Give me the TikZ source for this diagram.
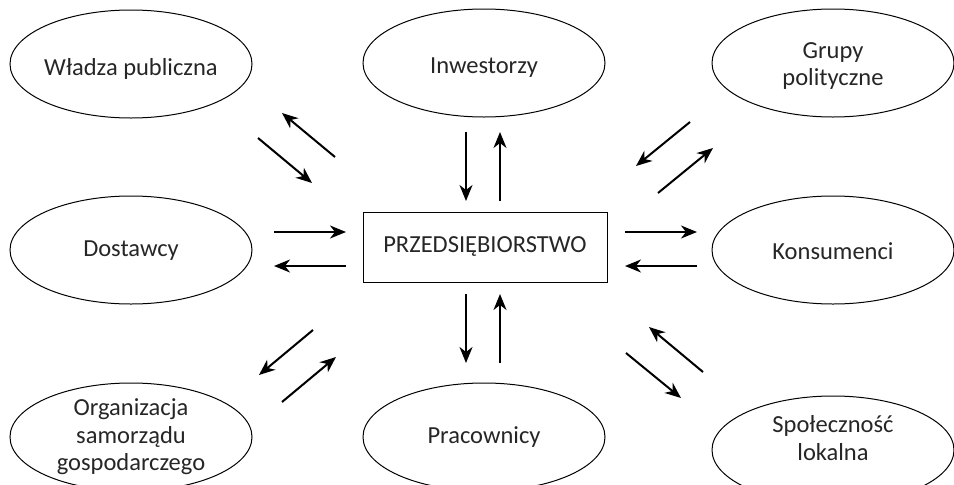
\documentclass[tikz,border=0pt]{standalone}
\usepackage{fontspec}
\setmainfont{Carlito}
\usetikzlibrary{arrows.meta,shapes.geometric}

\tikzset{
  actor/.style={draw, line width=1pt, ellipse, minimum width=242pt, minimum height=108pt,
    inner sep=0pt},
  caption/.style={align=center, text=black!85, inner sep=0pt,
    font=\fontsize{24.5}{27.5}\selectfont},
  firm/.style={draw, line width=1pt, rectangle, minimum width=244pt, minimum height=70pt,
    inner sep=0pt, text=black!85, font=\fontsize{24.5}{27.5}\selectfont},
  flow/.style={line width=2pt, -{Stealth[length=16pt, width=13pt, inset=5pt]}}
}

\begin{document}
\begin{tikzpicture}[x=1pt, y=-1pt]
  \useasboundingbox (0,0) rectangle (954,485);

  % central company
  \node[firm] (core) at (485,247) {PRZEDSIĘBIORSTWO};

  % stakeholder ellipses
  \node[actor] (gov)   at (131,64)  {};
  \node[actor] (inv)   at (484,63)  {};
  \node[actor] (pol)   at (833,63)  {};
  \node[actor] (sup)   at (131,250) {};
  \node[actor] (cons)  at (833,250) {};
  \node[actor] (org)   at (131,437) {};
  \node[actor] (emp)   at (484,437) {};
  \node[actor] (local) at (833,450) {};

  % stakeholder names
  \node[caption] (govt)   at ([yshift=-5]gov.center)   {Władza publiczna};
  \node[caption] (invt)   at ([yshift=-5]inv.center)   {Inwestorzy};
  \node[caption] (polt)   at ([yshift=-3]pol.center)   {Grupy\\polityczne};
  \node[caption] (supt)   at ([yshift=-1]sup.center)   {Dostawcy};
  \node[caption] (const)  at ([yshift=-1]cons.center)  {Konsumenci};
  \node[caption] (orgt)   at ([yshift=0]org.center)    {Organizacja\\samorządu\\gospodarczego};
  \node[caption] (empt)   at ([yshift=0]emp.center)    {Pracownicy};
  \node[caption] (localt) at ([yshift=12]local.center) {Społeczność\\lokalna};

  % exchange arrows, upper left
  \draw[flow] (335,157) -- (282,113);
  \draw[flow] (258,138) -- (312,183);
  % upper middle
  \draw[flow] (466,132) -- (466,201);
  \draw[flow] (500,201) -- (500,132);
  % upper right
  \draw[flow] (690,122) -- (636,166);
  \draw[flow] (658,193) -- (713,148);
  % middle left
  \draw[flow] (274,232) -- (346,232);
  \draw[flow] (346,266) -- (274,266);
  % middle right
  \draw[flow] (625,232) -- (697,232);
  \draw[flow] (697,266) -- (625,266);
  % lower left
  \draw[flow] (313,330) -- (259,375);
  \draw[flow] (282,402) -- (336,357);
  % lower middle
  \draw[flow] (466,294) -- (466,363);
  \draw[flow] (500,363) -- (500,294);
  % lower right
  \draw[flow] (626,353) -- (681,398);
  \draw[flow] (703,372) -- (649,327);
\end{tikzpicture}
\end{document}
